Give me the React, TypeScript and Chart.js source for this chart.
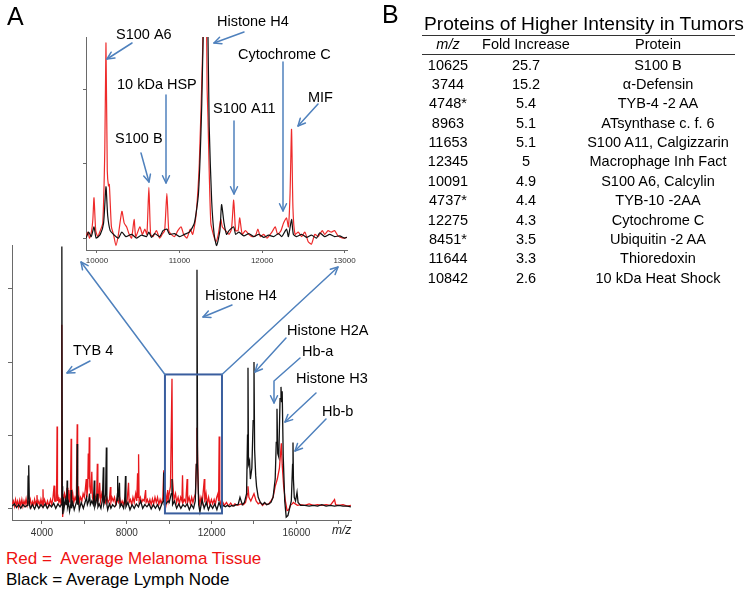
import React, { useEffect, useRef } from 'react';
import { Chart, registerables } from 'chart.js';
Chart.register(...registerables);

const FONT = '"Liberation Sans", Arial, Helvetica, sans-serif';
const RED = '#e8181c';
const BLACK = '#111111';
const ARROW = '#4f81bd';
const BOX = '#3a5e9e';
const AXIS = '#6a6a6a';

// ---------- DATA (m/z, relative intensity) ----------
const mainBlack: [number, number][] = [
  [2600,0.03],[2700,0.06],[2800,0.01],[2900,0.05],[3000,0.0],[3100,0.05],[3200,0.02],[3300,0.04],[3330,0.1],[3345,0.45],[3365,0.12],[3383,0.59],[3405,0.05],[3450,0.0],[3550,0.05],[3650,-0.01],[3750,0.06],[3850,0.0],[3950,0.05],[4050,0.01],[4150,0.06],[4250,0.0],[4350,0.05],[4450,0.02],[4550,0.07],[4650,0.0],[4750,0.06],[4850,0.02],[4910,0.05],[4930,1.2],[4943,3.58],[4958,0.3],[4975,-0.08],[5000,0.15],[5040,0.0],[5100,0.12],[5140,0.05],[5170,0.15],[5187,0.38],[5205,0.02],[5250,0.08],[5300,-0.04],[5360,0.06],[5376,0.25],[5395,0.0],[5450,0.08],[5520,-0.02],[5600,0.06],[5640,0.1],[5661,0.88],[5680,0.05],[5720,0.12],[5760,-0.02],[5850,0.08],[5950,0.0],[6050,0.1],[6100,0.15],[6140,0.05],[6200,0.1],[6240,0.2],[6280,0.05],[6350,0.1],[6420,0.05],[6468,0.38],[6490,0.02],[6550,0.08],[6610,0.2],[6640,0.02],[6700,0.06],[6780,0.0],[6850,0.12],[6895,0.56],[6915,0.05],[6960,0.1],[7000,0.2],[7037,0.83],[7060,0.05],[7100,-0.02],[7180,0.06],[7250,0.0],[7330,0.05],[7420,0.02],[7500,0.05],[7540,0.15],[7560,0.44],[7580,0.1],[7620,0.2],[7654,0.35],[7680,0.02],[7750,0.06],[7850,0.0],[7900,0.1],[7939,0.44],[7960,0.02],[8050,0.08],[8150,-0.02],[8250,0.05],[8350,0.0],[8450,0.06],[8550,0.02],[8650,0.1],[8750,0.0],[8850,0.05],[8950,0.02],[9050,0.06],[9150,-0.01],[9250,0.05],[9350,0.0],[9450,0.05],[9550,-0.02],[9650,0.06],[9720,0.1],[9743,0.49],[9765,0.05],[9850,0.06],[9950,0.1],[10000,0.08],[10100,0.2],[10132,0.4],[10160,0.05],[10250,0.1],[10350,0.0],[10450,0.06],[10550,0.0],[10650,0.05],[10750,0.02],[10850,0.06],[10950,-0.02],[11050,0.05],[11150,0.0],[11230,0.1],[11280,0.6],[11311,3.26],[11340,0.6],[11390,0.05],[11450,-0.05],[11550,0.12],[11650,0.0],[11750,0.08],[11850,-0.02],[11950,0.05],[12050,0.0],[12150,0.06],[12250,-0.02],[12350,0.08],[12450,0.0],[12550,0.04],[12650,0.02],[12750,0.04],[12850,0.02],[12950,0.04],[13050,0.03],[13150,0.05],[13250,0.05],[13340,0.15],[13450,0.05],[13550,0.08],[13650,0.2],[13695,1.0],[13717,1.92],[13740,0.6],[13790,0.65],[13830,0.4],[13900,0.55],[13960,1.2],[14000,2.0],[14030,0.8],[14080,0.45],[14120,0.3],[14200,0.15],[14300,0.08],[14400,0.05],[14500,0.08],[14600,0.05],[14700,0.06],[14800,0.08],[14900,0.15],[15000,0.4],[15050,0.9],[15085,1.36],[15120,0.75],[15170,0.7],[15230,1.5],[15274,1.66],[15300,1.45],[15330,1.6],[15380,0.7],[15450,0.1],[15520,-0.12],[15600,-0.1],[15680,0.0],[15760,0.1],[15820,0.6],[15840,0.9],[15860,0.4],[15900,0.15],[15960,0.1],[16030,0.22],[16080,0.08],[16200,0.04],[16400,0.04],[16600,0.03],[16800,0.04],[17000,0.03],[17200,0.05],[17400,0.03],[17600,0.04],[17800,0.03],[18000,0.04],[18200,0.03],[18400,0.03],[18570,0.02]
];

const mainRed: [number, number][] = [
  [2600,0.06],[2650,0.1],[2700,0.03],[2750,0.12],[2800,0.05],[2850,0.1],[2900,0.02],[2950,0.11],[3000,0.04],[3050,0.12],[3100,0.03],[3150,0.1],[3200,0.05],[3250,0.13],[3300,0.04],[3350,0.1],[3400,0.06],[3450,0.12],[3500,0.03],[3550,0.09],[3600,0.04],[3650,0.12],[3700,0.05],[3740,0.1],[3763,0.18],[3790,0.05],[3850,0.1],[3900,0.04],[3950,0.12],[4000,0.05],[4030,0.1],[4047,0.26],[4065,0.05],[4120,0.12],[4200,0.04],[4260,0.1],[4320,0.03],[4400,0.12],[4460,0.05],[4520,0.15],[4570,0.31],[4600,0.1],[4660,0.1],[4690,0.3],[4712,1.12],[4730,0.1],[4760,0.15],[4800,0.08],[4860,0.12],[4900,0.05],[4925,0.5],[4943,2.51],[4958,0.2],[4975,-0.12],[5000,0.1],[5060,0.2],[5120,0.1],[5180,0.28],[5220,0.1],[5260,0.25],[5300,0.08],[5340,0.2],[5376,0.95],[5395,0.08],[5450,0.2],[5500,0.08],[5560,0.15],[5620,0.1],[5661,1.15],[5680,0.1],[5720,0.3],[5760,0.08],[5820,0.15],[5880,0.1],[5940,0.2],[6000,0.15],[6040,0.25],[6088,0.4],[6120,0.15],[6160,0.3],[6183,0.75],[6210,0.4],[6231,0.97],[6255,0.3],[6300,0.2],[6350,0.5],[6380,0.15],[6420,0.1],[6480,0.2],[6530,0.1],[6580,0.2],[6610,0.61],[6635,0.1],[6680,0.15],[6720,0.35],[6760,0.1],[6820,0.2],[6880,0.1],[6940,0.15],[7000,0.08],[7060,0.15],[7120,0.08],[7180,0.12],[7227,0.29],[7250,0.08],[7300,0.15],[7360,0.1],[7420,0.15],[7480,0.05],[7540,0.12],[7600,0.08],[7660,0.15],[7720,0.05],[7780,0.1],[7840,0.05],[7900,0.12],[7960,0.06],[8020,0.12],[8082,0.35],[8110,0.08],[8170,0.12],[8230,0.05],[8290,0.15],[8350,0.08],[8420,0.2],[8470,0.1],[8509,0.48],[8530,0.15],[8556,0.74],[8580,0.1],[8640,0.15],[8700,0.08],[8760,0.12],[8820,0.1],[8888,0.25],[8910,0.08],[8970,0.12],[9030,0.06],[9090,0.12],[9150,0.05],[9210,0.13],[9270,0.06],[9330,0.15],[9390,0.08],[9450,0.15],[9510,0.05],[9570,0.12],[9630,0.06],[9700,0.15],[9743,0.52],[9770,0.1],[9830,0.2],[9880,0.08],[9930,0.25],[9960,0.12],[10000,0.2],[10060,0.3],[10132,1.77],[10155,0.4],[10180,0.3],[10230,0.12],[10300,0.2],[10350,0.08],[10420,0.15],[10480,0.06],[10540,0.15],[10600,0.1],[10629,0.45],[10655,0.08],[10720,0.12],[10780,0.08],[10847,0.4],[10870,0.08],[10940,0.15],[11000,0.06],[11060,0.15],[11120,0.08],[11180,0.15],[11240,0.2],[11280,0.6],[11311,1.1],[11340,0.7],[11380,0.2],[11440,0.05],[11500,0.15],[11560,0.08],[11657,0.4],[11680,0.08],[11740,0.2],[11800,0.06],[11860,0.15],[11920,0.05],[11990,0.12],[12050,0.06],[12120,0.12],[12180,0.06],[12240,0.15],[12297,0.2],[12330,0.1],[12358,0.98],[12385,0.12],[12440,0.05],[12500,0.1],[12600,0.04],[12700,0.08],[12800,0.03],[12900,0.07],[13000,0.03],[13100,0.06],[13200,0.04],[13300,0.05],[13400,0.06],[13500,0.05],[13600,0.08],[13700,0.2],[13717,0.3],[13760,0.15],[13850,0.1],[14000,0.2],[14100,0.1],[14200,0.06],[14300,0.08],[14400,0.04],[14500,0.07],[14600,0.05],[14700,0.06],[14800,0.1],[14900,0.15],[15000,0.3],[15100,0.4],[15200,0.55],[15290,0.89],[15330,0.6],[15400,0.3],[15480,0.1],[15560,-0.03],[15640,-0.02],[15720,0.04],[15800,0.06],[15860,0.08],[15950,0.06],[16050,0.04],[16200,0.05],[16400,0.04],[16600,0.06],[16800,0.04],[17000,0.05],[17200,0.04],[17400,0.05],[17600,0.04],[17800,0.12],[17850,0.05],[18000,0.04],[18200,0.05],[18400,0.03],[18570,0.04]
];

const insetBlack: [number, number][] = [
  [9867,0.0],[9900,0.08],[9930,0.02],[9964,0.15],[9990,0.0],[10040,0.05],[10080,0.2],[10109,0.69],[10130,0.3],[10160,0.1],[10200,0.05],[10260,0.0],[10300,0.08],[10350,0.02],[10420,0.05],[10480,0.0],[10540,0.04],[10600,0.02],[10629,0.08],[10660,0.01],[10700,0.06],[10760,0.02],[10800,0.1],[10847,0.12],[10880,0.05],[10940,0.06],[11000,0.02],[11060,0.05],[11120,0.08],[11180,0.2],[11230,0.6],[11270,1.8],[11300,3.5],[11318,4.5],[11340,3.2],[11360,1.5],[11390,0.5],[11420,0.05],[11450,-0.1],[11490,0.1],[11510,0.45],[11540,0.2],[11570,0.05],[11600,0.1],[11657,0.15],[11680,0.05],[11720,0.08],[11780,0.03],[11840,0.06],[11900,0.02],[11960,0.05],[12020,0.01],[12080,0.04],[12140,0.02],[12200,0.06],[12240,0.02],[12297,0.12],[12320,0.02],[12358,0.25],[12380,0.05],[12420,0.02],[12480,0.05],[12540,0.01],[12600,0.04],[12660,0.0],[12700,0.07],[12760,0.02],[12820,0.05],[12880,0.02],[12940,0.03],[13000,0.0],[13030,0.01]
];

const insetRed: [number, number][] = [
  [9867,0.02],[9890,0.08],[9910,0.0],[9935,0.1],[9950,0.25],[9964,0.54],[9985,0.1],[10010,0.02],[10040,0.1],[10070,0.2],[10095,1.2],[10109,2.62],[10125,0.9],[10140,0.7],[10150,0.72],[10175,0.15],[10200,0.05],[10230,-0.1],[10260,0.05],[10302,0.36],[10330,0.2],[10360,0.15],[10390,0.05],[10420,0.0],[10450,0.25],[10470,0.02],[10520,0.15],[10550,0.05],[10580,0.12],[10605,0.05],[10629,0.68],[10650,0.05],[10680,0.02],[10720,0.1],[10760,0.0],[10790,0.05],[10820,0.1],[10847,0.6],[10870,0.1],[10900,0.05],[10940,0.02],[10980,0.1],[11020,0.15],[11050,0.05],[11090,0.0],[11130,0.12],[11160,0.05],[11200,0.3],[11240,1.0],[11280,2.5],[11300,3.6],[11318,3.8],[11335,2.0],[11345,1.62],[11360,0.9],[11380,0.2],[11410,0.05],[11440,-0.05],[11470,0.05],[11500,0.25],[11520,0.15],[11560,0.1],[11600,0.05],[11630,0.12],[11657,0.51],[11680,0.1],[11710,0.1],[11730,0.27],[11760,0.05],[11800,0.1],[11840,0.05],[11880,0.02],[11920,0.03],[11950,0.12],[11980,0.02],[12020,0.05],[12060,0.0],[12120,0.08],[12160,0.15],[12190,0.05],[12230,0.1],[12260,0.2],[12297,0.27],[12320,0.15],[12340,0.6],[12358,1.46],[12375,0.4],[12400,0.05],[12440,0.08],[12480,0.02],[12520,0.08],[12560,-0.05],[12600,-0.08],[12640,0.05],[12680,0.02],[12730,0.1],[12760,0.05],[12800,0.1],[12840,0.08],[12880,0.1],[12920,0.03],[12980,0.0],[13030,0.01]
];

// tick values
const mainXTicks = [4000, 6000, 8000, 10000, 12000, 14000, 16000, 18000];
const mainXLabelled = [4000, 8000, 12000, 16000];
const mainYTicks = [0, 1, 2, 3];
const insetXTicks = [10000, 11000, 12000, 13000];
const insetYTicks = [0, 1, 2];

// zoom window drawn on the main spectrum (m/z range, intensity range)
const zoomBoxMz = [9800, 12490];
const zoomBoxIntensity = [-0.07, 1.83];

// table
const tableMz = ['10625', '3744', '4748*', '8963', '11653', '12345', '10091', '4737*', '12275', '8451*', '11644', '10842'];
const tableFold = ['25.7', '15.2', '5.4', '5.1', '5.1', '5', '4.9', '4.4', '4.3', '3.5', '3.3', '2.6'];
const tableProtein = ['S100 B', 'α-Defensin', 'TYB-4 -2 AA', 'ATsynthase c. f. 6', 'S100 A11, Calgizzarin', 'Macrophage Inh Fact', 'S100 A6, Calcylin', 'TYB-10 -2AA', 'Cytochrome C', 'Ubiquitin -2 AA', 'Thioredoxin', '10 kDa Heat Shock'];

// ---------- annotation layout (pixels) ----------
const mainLabels: [string, number, number][] = [
  ['Histone H4', 205, 300], ['TYB 4', 73, 355], ['Histone H2A', 287, 335],
  ['Hb-a', 302, 356], ['Histone H3', 296, 383], ['Hb-b', 322, 416],
];
const mainArrows: number[][][] = [
  [[232, 305], [203, 317]], [[90, 361], [67, 373]], [[286, 338], [255, 372]],
  [[300, 358], [274, 381], [274, 403]], [[316, 393], [285, 422]], [[326, 419], [295, 451]],
];
const insetLabels: [string, number, number][] = [
  ['Histone H4', 217, 26], ['S100 A6', 116, 39], ['10 kDa HSP', 117, 89], ['S100 B', 115, 143],
  ['S100 A11', 213, 113], ['Cytochrome C', 238, 59], ['MIF', 308, 102],
];
const insetArrows: number[][][] = [
  [[132, 43], [107, 59]], [[244, 32], [214, 43]], [[166, 95], [166, 183]], [[141, 153], [149, 182]],
  [[234, 121], [234, 194]], [[283, 62], [283, 211]], [[318, 104], [298, 126]],
];
const zoomTargets = [[81, 262], [338, 267]];

function drawArrow(ctx: CanvasRenderingContext2D, pts: number[][]) {
  ctx.save();
  ctx.strokeStyle = ARROW;
  ctx.lineWidth = 1.5;
  ctx.lineCap = 'round';
  ctx.lineJoin = 'round';
  ctx.beginPath();
  ctx.moveTo(pts[0][0], pts[0][1]);
  for (let i = 1; i < pts.length; i++) ctx.lineTo(pts[i][0], pts[i][1]);
  ctx.stroke();
  const [x1, y1] = pts[pts.length - 2];
  const [x2, y2] = pts[pts.length - 1];
  const a = Math.atan2(y2 - y1, x2 - x1);
  const L = 8, w = 0.45;
  ctx.beginPath();
  ctx.moveTo(x2 - L * Math.cos(a - w), y2 - L * Math.sin(a - w));
  ctx.lineTo(x2, y2);
  ctx.lineTo(x2 - L * Math.cos(a + w), y2 - L * Math.sin(a + w));
  ctx.stroke();
  ctx.restore();
}

function drawLabels(ctx: CanvasRenderingContext2D, labels: [string, number, number][]) {
  ctx.save();
  ctx.font = `14.5px ${FONT}`;
  ctx.fillStyle = '#000';
  ctx.textBaseline = 'alphabetic';
  ctx.textAlign = 'left';
  for (const [t, x, y] of labels) ctx.fillText(t, x, y);
  ctx.restore();
}

const toXY = (arr: [number, number][]) => arr.map(([x, y]) => ({ x, y }));
const fixedTicks = (values: number[]) => (s: any) => { s.ticks = values.map((v) => ({ value: v })); };

function axisCommon(extra: any, tickLength = 4) {
  return {
    type: 'linear',
    border: { display: true, color: AXIS, width: 1 },
    grid: { display: true, drawOnChartArea: false, drawTicks: true, tickLength, color: AXIS },
    ...extra,
  };
}

export default function App() {
  const mainRef = useRef<HTMLCanvasElement>(null);
  const insetRef = useRef<HTMLCanvasElement>(null);

  useEffect(() => {
    const mainAnno = {
      id: 'mainAnno',
      afterDraw(chart: any) {
        const ctx = chart.ctx;
        const xs = chart.scales.x, ys = chart.scales.y;
        const x0 = xs.getPixelForValue(zoomBoxMz[0]);
        const x1 = xs.getPixelForValue(zoomBoxMz[1]);
        const yTop = ys.getPixelForValue(zoomBoxIntensity[1]);
        const yBot = ys.getPixelForValue(zoomBoxIntensity[0]);
        ctx.save();
        ctx.strokeStyle = BOX;
        ctx.lineWidth = 2;
        ctx.strokeRect(x0, yTop, x1 - x0, yBot - yTop);
        ctx.restore();
        drawArrow(ctx, [[x0, yTop], zoomTargets[0]]);
        drawArrow(ctx, [[x1, yTop], zoomTargets[1]]);
        for (const a of mainArrows) drawArrow(ctx, a);
        drawLabels(ctx, mainLabels);
        ctx.save();
        ctx.font = `italic 12px ${FONT}`;
        ctx.fillStyle = '#222';
        ctx.fillText('m/z', 332, 534);
        ctx.restore();
      },
    };
    const insetAnno = {
      id: 'insetAnno',
      afterDraw(chart: any) {
        const ctx = chart.ctx;
        for (const a of insetArrows) drawArrow(ctx, a);
        drawLabels(ctx, insetLabels);
      },
    };

    const main = new Chart(mainRef.current!, {
      type: 'line',
      data: {
        datasets: [
          { data: toXY(mainBlack), borderColor: BLACK, borderWidth: 1.3, pointRadius: 0, tension: 0 },
          { data: toXY(mainRed), borderColor: RED, borderWidth: 1.3, pointRadius: 0, tension: 0 },
        ],
      },
      options: {
        animation: false,
        responsive: false,
        maintainAspectRatio: false,
        events: [],
        layout: { padding: { left: 0, top: 245, right: 49, bottom: 0 } },
        plugins: { legend: { display: false }, tooltip: { enabled: false } },
        scales: {
          x: axisCommon({
            min: 2585, max: 18576,
            afterFit: (s: any) => { s.height = 25; },
            afterBuildTicks: fixedTicks(mainXTicks),
            ticks: {
              autoSkip: false, maxRotation: 0, padding: 3,
              font: { family: FONT, size: 10 }, color: '#333',
              callback: (v: any) => (mainXLabelled.includes(Number(v)) ? String(v) : ''),
            },
          }),
          y: axisCommon({
            min: -0.16, max: 3.6,
            afterFit: (s: any) => { s.width = 12; },
            afterBuildTicks: fixedTicks(mainYTicks),
            ticks: { padding: 0, callback: () => '' },
          }),
        },
      } as any,
      plugins: [mainAnno],
    });

    const inset = new Chart(insetRef.current!, {
      type: 'line',
      data: {
        datasets: [
          { data: toXY(insetBlack), borderColor: BLACK, borderWidth: 1.2, pointRadius: 0, tension: 0.2 },
          { data: toXY(insetRed), borderColor: '#ee2b2b', borderWidth: 1.2, pointRadius: 0, tension: 0.2 },
        ],
      },
      options: {
        animation: false,
        responsive: false,
        maintainAspectRatio: false,
        events: [],
        layout: { padding: { left: 0, top: 37, right: 53, bottom: 0 } },
        plugins: { legend: { display: false }, tooltip: { enabled: false } },
        scales: {
          x: axisCommon({
            min: 9867, max: 13030,
            afterFit: (s: any) => { s.height = 25; },
            afterBuildTicks: fixedTicks(insetXTicks),
            ticks: {
              autoSkip: false, maxRotation: 0, padding: 3,
              font: { family: FONT, size: 8 }, color: '#333',
              callback: (v: any) => String(v),
            },
          }, 3),
          y: axisCommon({
            min: -0.16, max: 2.7,
            afterFit: (s: any) => { s.width = 86; },
            afterBuildTicks: fixedTicks(insetYTicks),
            ticks: { padding: 0, callback: () => '' },
          }, 3),
        },
      } as any,
      plugins: [insetAnno],
    });

    return () => { main.destroy(); inset.destroy(); };
  }, []);

  const abs = (left: number, top: number, extra: React.CSSProperties = {}): React.CSSProperties => ({
    position: 'absolute', left, top, lineHeight: 1, whiteSpace: 'nowrap', fontFamily: FONT, ...extra,
  });

  const cols = [
    { c: 448, w: 70 },
    { c: 526, w: 110 },
    { c: 658, w: 200 },
  ];
  const cell = (i: number, top: number, text: string, italic = false) => (
    <div key={`${i}-${top}-${text}`} style={abs(cols[i].c - cols[i].w / 2, top, { width: cols[i].w, textAlign: 'center', fontSize: 14.5, color: '#000', fontStyle: italic ? 'italic' : 'normal' })}>{text}</div>
  );

  return (
    <div style={{ position: 'absolute', left: 0, top: 0, width: 751, height: 595, background: '#fff', overflow: 'hidden' }}>
      <canvas ref={mainRef} width={400} height={545} style={{ position: 'absolute', left: 0, top: 0, width: 400, height: 545 }} />
      <canvas ref={insetRef} width={400} height={275} style={{ position: 'absolute', left: 0, top: 0, width: 400, height: 275 }} />
      <div style={abs(7, 4, { fontSize: 25, color: '#000' })}>A</div>
      <div style={abs(382, 2, { fontSize: 25, color: '#000' })}>B</div>
      <div style={abs(6, 549.6, { fontSize: 17, color: '#ee1111' })}>Red =&nbsp; Average Melanoma Tissue</div>
      <div style={abs(6, 570.6, { fontSize: 17, color: '#000' })}>Black = Average Lymph Node</div>
      <div style={abs(424, 13.7, { fontSize: 19.2, color: '#000' })}>Proteins of Higher Intensity in Tumors</div>
      <div style={{ position: 'absolute', left: 422, top: 34.5, width: 313, height: 1, background: '#333' }} />
      <div style={{ position: 'absolute', left: 422, top: 53.5, width: 313, height: 1, background: '#333' }} />
      {cell(0, 37, 'm/z', true)}
      {cell(1, 37, 'Fold Increase')}
      {cell(2, 37, 'Protein')}
      {tableMz.map((m, i) => cell(0, 57.7 + i * 19.35, m))}
      {tableFold.map((f, i) => cell(1, 57.7 + i * 19.35, f))}
      {tableProtein.map((p, i) => cell(2, 57.7 + i * 19.35, p))}
    </div>
  );
}
